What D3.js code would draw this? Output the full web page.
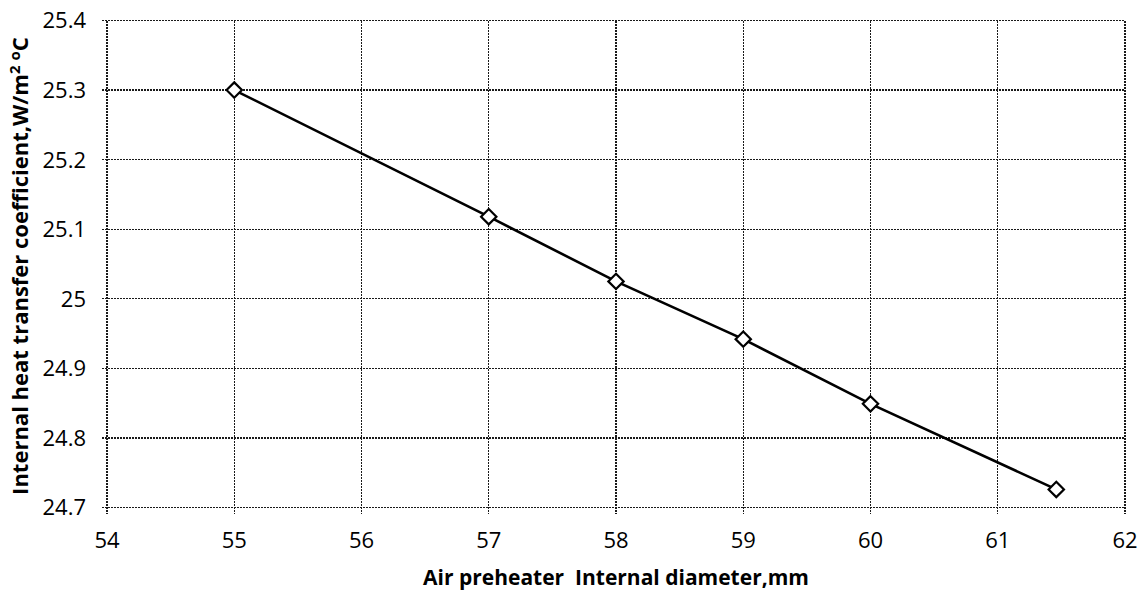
<!DOCTYPE html>
<html>
<head>
<meta charset="utf-8">
<script src="https://cdn.jsdelivr.net/npm/d3@7"></script>
<style>
  html, body { margin: 0; padding: 0; background: #fff; }
  svg { display: block; font-family: "Open Sans", "Noto Sans", sans-serif; }
</style>
</head>
<body>
<svg id="chart" width="1148" height="593"></svg>
<script>
// Internal heat transfer coefficient vs. air preheater internal diameter
const diameters = [55, 57, 58, 59, 60, 61.46];
const coefficients = [25.300, 25.118, 25.025, 24.942, 24.849, 24.726];
const xTicks = [54, 55, 56, 57, 58, 59, 60, 61, 62];
const yTicks = [24.7, 24.8, 24.9, 25.0, 25.1, 25.2, 25.3, 25.4];
const yTickLabels = ["24.7", "24.8", "24.9", "25", "25.1", "25.2", "25.3", "25.4"];

const svg = d3.select("#chart");
const m = { left: 107, right: 1125, top: 20.5, bottom: 507.5 };

const x = d3.scaleLinear().domain([54, 62]).range([m.left, m.right]);
const y = d3.scaleLinear().domain([24.7, 25.4]).range([m.bottom, m.top]);

const gridStyle = sel => sel.attr("stroke", "#1a1a1a").attr("stroke-width", 1.4)
  .attr("stroke-dasharray", "2,1").attr("shape-rendering", "crispEdges");

// horizontal gridlines
svg.append("g").selectAll("line").data(yTicks).join("line")
  .attr("x1", m.left - 5).attr("x2", m.right)
  .attr("y1", d => y(d)).attr("y2", d => y(d))
  .call(gridStyle);

// vertical gridlines with small ticks below the axis
svg.append("g").selectAll("line").data(xTicks).join("line")
  .attr("x1", d => x(d)).attr("x2", d => x(d))
  .attr("y1", m.top).attr("y2", m.bottom + 6)
  .call(gridStyle);

// tick labels
svg.append("g").selectAll("text").data(yTicks).join("text")
  .attr("x", 86).attr("y", d => y(d)).attr("dy", "0.36em")
  .attr("text-anchor", "end").attr("font-size", 22).attr("fill", "#000")
  .text((d, i) => yTickLabels[i]);

svg.append("g").selectAll("text").data(xTicks).join("text")
  .attr("x", d => x(d)).attr("y", 548)
  .attr("text-anchor", "middle").attr("font-size", 22).attr("fill", "#000")
  .text(d => d);

// data line
const line = d3.line().x((d, i) => x(diameters[i])).y(d => y(d));
svg.append("path").datum(coefficients)
  .attr("d", line).attr("fill", "none")
  .attr("stroke", "#000").attr("stroke-width", 2.6);

// diamond markers
const diamond = d3.symbol().type(d3.symbolDiamond2).size(150);
svg.append("g").selectAll("path").data(coefficients).join("path")
  .attr("transform", (d, i) => `translate(${x(diameters[i])},${y(d)})`)
  .attr("d", diamond)
  .attr("fill", "#fff").attr("stroke", "#000").attr("stroke-width", 2.2);

// axis titles
svg.append("text")
  .attr("x", 616).attr("y", 585)
  .attr("text-anchor", "middle").attr("font-size", 21).attr("font-weight", "bold")
  .attr("fill", "#000").attr("xml:space", "preserve")
  .text("Air preheater  Internal diameter,mm");

const yt = svg.append("text")
  .attr("transform", "translate(28,266) rotate(-90)")
  .attr("text-anchor", "middle").attr("font-size", 22).attr("font-weight", "bold")
  .attr("fill", "#000");
yt.append("tspan").text("Internal heat transfer coefficient,W/m");
yt.append("tspan").attr("font-size", 15).attr("dy", -8).text("2");
yt.append("tspan").attr("font-size", 15).attr("dx", 5).text("o");
yt.append("tspan").attr("dy", 8).text("C");
</script>
</body>
</html>
